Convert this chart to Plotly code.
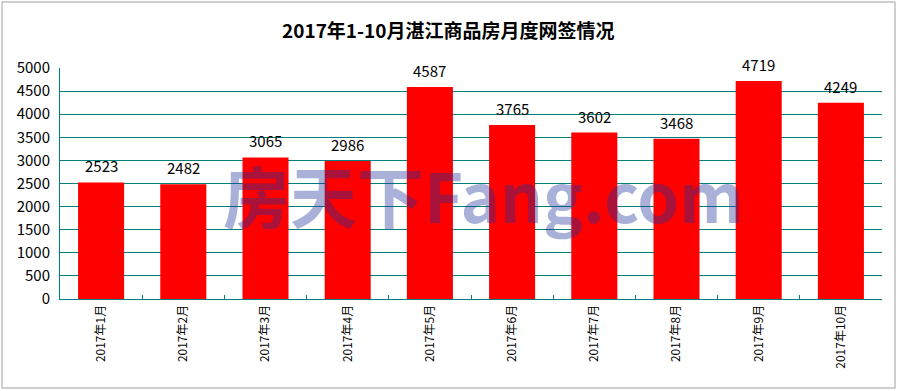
import plotly.graph_objects as go

categories = ["2017年1月", "2017年2月", "2017年3月", "2017年4月", "2017年5月",
              "2017年6月", "2017年7月", "2017年8月", "2017年9月", "2017年10月"]
values = [2523, 2482, 3065, 2986, 4587, 3765, 3602, 3468, 4719, 4249]
title_text = "2017年1-10月湛江商品房月度网签情况"
watermark = "房天下Fang.com"

FONT = "Noto Sans CJK SC, sans-serif"

fig = go.Figure()
fig.add_trace(go.Bar(
    x=categories, y=values, width=0.56,
    marker=dict(color="#FF0000", line=dict(width=0)),
    hoverinfo="skip",
))

for c, v in zip(categories, values):
    fig.add_annotation(x=c, y=v, text=str(v), showarrow=False, yanchor="bottom",
                       yshift=4, font=dict(family=FONT, size=15, color="#000000"))

fig.update_layout(
    width=899, height=391,
    margin=dict(l=60, r=17, t=68, b=92),
    paper_bgcolor="white", plot_bgcolor="white",
    showlegend=False,
    font=dict(family=FONT),
)
fig.add_annotation(text=title_text, xref="paper", yref="paper", x=0.473, y=1.165,
                   xanchor="center", yanchor="middle", showarrow=False,
                   font=dict(family=FONT, size=19, color="#000000", weight="bold"))
fig.update_yaxes(
    range=[0, 5000], dtick=500, showgrid=True, gridcolor="#007F7F", gridwidth=1,
    showline=True, linecolor="#007F7F", linewidth=1, automargin=False,
    zeroline=False, ticks="", ticklabelstandoff=6,
    tickfont=dict(family=FONT, size=15, color="#000000"),
)
fig.update_xaxes(
    showline=True, linecolor="#007F7F", linewidth=1, automargin=False,
    tickangle=-90, ticks="inside", ticklen=4, tickcolor="#007F7F", tickson="boundaries",
    tickfont=dict(family=FONT, size=12, color="#000000"),
)

# watermark
fig.add_annotation(
    text=watermark, xref="paper", yref="paper", x=0.515, y=0.455,
    showarrow=False,
    font=dict(family=FONT, size=67, color="rgba(30,50,155,0.38)", weight="bold"),
)

# outer border
fig.add_shape(type="rect", xref="paper", yref="paper",
              x0=-0.0705, x1=1.0158, y0=-0.385, y1=1.286,
              line=dict(color="#C0C0C0", width=1.5), fillcolor="rgba(0,0,0,0)", layer="below")

fig.write_html("out.html", config={"displayModeBar": False},
               post_script="document.body.style.margin='0';")
